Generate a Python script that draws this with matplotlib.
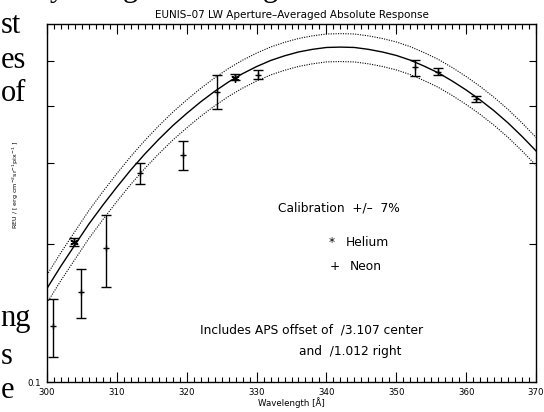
import matplotlib
matplotlib.use("Agg")
import matplotlib.pyplot as plt
import numpy as np
from matplotlib.ticker import FixedLocator, NullFormatter, FixedFormatter, MultipleLocator

# ---- data ----
curve_wl = [300, 302, 304, 306, 308, 310, 312, 314, 316, 318, 320, 322, 324, 326,
            328, 330, 332, 334, 336, 338, 340, 342, 344, 346, 348, 350, 352, 354,
            356, 358, 360, 362, 364, 366, 368, 370]
curve_reu = [0.160, 0.179, 0.199, 0.221, 0.243, 0.266, 0.290, 0.314, 0.338, 0.362,
             0.385, 0.408, 0.430, 0.451, 0.470, 0.487, 0.502, 0.514, 0.524, 0.531,
             0.536, 0.537, 0.536, 0.531, 0.524, 0.515, 0.503, 0.488, 0.472, 0.453,
             0.433, 0.412, 0.390, 0.367, 0.343, 0.319]
cal_err = 0.07

neon_wl = [300.9, 304.9, 308.45, 313.3, 319.5, 324.4, 330.2, 352.7, 356.0, 361.4]
neon_reu = [0.1325, 0.157, 0.196, 0.285, 0.312, 0.429, 0.467, 0.485, 0.473, 0.413]
neon_lo = [0.1134, 0.1378, 0.161, 0.270, 0.2896, 0.3933, 0.4573, 0.4642, 0.4665, 0.4074]
neon_hi = [0.1516, 0.1763, 0.2314, 0.300, 0.3355, 0.4665, 0.4783, 0.503, 0.4827, 0.4198]

helium_wl = [303.8, 326.9]
helium_reu = [0.2018, 0.461]
helium_lo = [0.1981, 0.455]
helium_hi = [0.2056, 0.468]

title = "EUNIS\u201307 LW Aperture\u2013Averaged Absolute Response"
xlabel = "Wavelength [\u00c5]"
ylabel = r"REU / [ erg cm$^{-2}$sr$^{-1}$pix$^{-1}$ ]"
xticks = [300, 310, 320, 330, 340, 350, 360, 370]
yticks = [0.2, 0.3, 0.4, 0.5]

plt.rcParams['font.family'] = ['DejaVu Sans']
plt.rcParams['mathtext.fontset'] = 'dejavusans'

fig = plt.figure(figsize=(5.44, 4.12), dpi=100)
ax = fig.add_axes([47/544, 30/412, 489/544, 358/412])

cw = np.array(curve_wl)
cr = np.array(curve_reu)
ax.plot(cw, cr, color='black', lw=1.0)
ax.plot(cw, cr * (1 + cal_err), color='black', lw=0.8, ls=(0, (1, 1.2)))
ax.plot(cw, cr * (1 - cal_err), color='black', lw=0.8, ls=(0, (1, 1.2)))

nr = np.array(neon_reu)
ax.errorbar(neon_wl, nr, yerr=[nr - np.array(neon_lo), np.array(neon_hi) - nr],
            fmt='+', color='black', ms=5, mew=1.0, elinewidth=1.0, capsize=3.5, capthick=1.0)
hr = np.array(helium_reu)
ax.errorbar(helium_wl, hr, yerr=[hr - np.array(helium_lo), np.array(helium_hi) - hr],
            fmt='none', color='black', elinewidth=1.0, capsize=3.5, capthick=1.0)
ax.plot(helium_wl, hr, ls='none', marker=(6, 2, 0), ms=6, mew=1.0, color='black')

ax.set_yscale('log')
ax.set_xlim(300, 370)
ax.set_ylim(0.1, 0.603)
ax.xaxis.set_major_locator(FixedLocator(xticks))
ax.xaxis.set_minor_locator(MultipleLocator(1))
ax.set_xticklabels([str(t) for t in xticks])
ax.yaxis.set_major_locator(FixedLocator([0.1]))
ax.yaxis.set_major_formatter(FixedFormatter(['0.1']))
ax.yaxis.set_minor_locator(FixedLocator(yticks))
ax.yaxis.set_minor_formatter(NullFormatter())
ax.tick_params(which='both', direction='in', top=True, right=True, width=0.8, labelsize=6.2, pad=4)
ax.tick_params(axis='x', which='major', length=7)
ax.tick_params(axis='x', which='minor', length=3.5)
ax.tick_params(axis='y', which='both', length=5)
for s in ax.spines.values():
    s.set_linewidth(1.0)

ax.set_title(title, fontsize=7.5, pad=4)
ax.set_xlabel(xlabel, fontsize=6.2, labelpad=0.5)
ax.set_ylabel(ylabel, fontsize=4.6)
ax.yaxis.set_label_coords(-0.053, 0.55)

tk = dict(transform=ax.transAxes, fontsize=8.8, va='center', ha='left')
ax.text(0.472, 0.486, "Calibration  +/\u2013  7%", **tk)
ax.text(0.575, 0.391, "*", **tk)
ax.text(0.611, 0.391, "Helium", **tk)
ax.text(0.578, 0.324, "+", **tk)
ax.text(0.620, 0.324, "Neon", **tk)
ax.text(0.313, 0.145, "Includes APS offset of  /3.107 center", **tk)
ax.text(0.515, 0.084, "and  /1.012 right", **tk)

# page text fragments around the figure
pk = dict(fontsize=22, family='Liberation Serif', ha='left', va='baseline')
fig.text(0.5/544, 1 - 33/412, "st", **pk)
fig.text(0.5/544, 1 - 68/412, "es", **pk)
fig.text(0.5/544, 1 - 101/412, "of", **pk)
fig.text(0.5/544, 1 - 326/412, "ng", **pk)
fig.text(0.5/544, 1 - 364/412, "s", **pk)
fig.text(0.5/544, 1 - 398/412, "e", **pk)
# descenders of the page line above the figure
fig.text(50/544, 1 + 4/412, "y", **pk)
fig.text(123/544, 1 + 4/412, "g", **pk)
fig.text(263/544, 1 + 4/412, "g", **pk)

fig.savefig("out.png", dpi=100)
